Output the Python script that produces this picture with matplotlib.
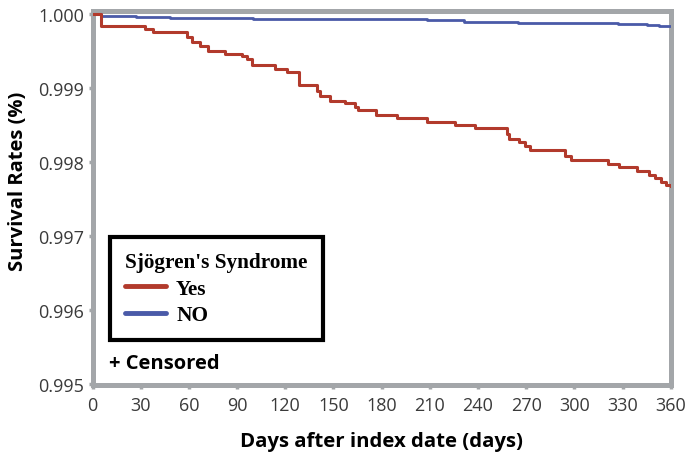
import matplotlib
matplotlib.use("Agg")
import matplotlib.pyplot as plt
from matplotlib.lines import Line2D

# Kaplan-Meier steps (day, survival after step)
yes_days = [0, 5.3, 32.7, 37.7, 58.8, 62, 66.9, 71.9, 82.5, 93.1, 96.2, 99.3, 113.6,
            121.1, 128.6, 139.8, 141.7, 147.9, 157.2, 163.4, 165.3, 176.5, 189.6,
            208.3, 225.7, 238.2, 258.1, 259.4, 265.6, 269.3, 272.4, 294.2, 297.9,
            321, 327.8, 339, 346.5, 350.2, 354, 357, 360]
yes_surv = [1.0, 0.99984, 0.99980, 0.99976, 0.99970, 0.99963, 0.99957, 0.99951,
            0.99946, 0.99944, 0.99940, 0.99932, 0.99926, 0.99922, 0.99904, 0.99896,
            0.99889, 0.99883, 0.99880, 0.99875, 0.99870, 0.99864, 0.99860, 0.99855,
            0.99850, 0.99846, 0.99838, 0.99831, 0.99827, 0.99822, 0.99817, 0.99808,
            0.99803, 0.99797, 0.99793, 0.99788, 0.99783, 0.99778, 0.99773, 0.99769,
            0.99767]

no_days = [0, 5, 27, 48.5, 100, 208, 221, 231, 265, 285, 327, 345, 353, 360]
no_surv = [1.0, 0.99998, 0.99997, 0.99995, 0.99994, 0.99993, 0.99992, 0.99990,
           0.99989, 0.99988, 0.99987, 0.99986, 0.99985, 0.99984]

x_ticks = [0, 30, 60, 90, 120, 150, 180, 210, 240, 270, 300, 330, 360]
y_ticks = [0.995, 0.996, 0.997, 0.998, 0.999, 1.000]
y_tick_labels = ["0.995", "0.996", "0.997", "0.998", "0.999", "1.000"]

RED = "#B23A2C"
BLUE = "#4A5AA8"
SPINE = "#A3A6A9"

fig = plt.figure(figsize=(6.85, 4.64), dpi=100)
ax = fig.add_axes([92.5 / 685, 1 - 386 / 464, (670.7 - 92.5) / 685, (386 - 12) / 464])

ax.step(no_days, no_surv, where="post", color=BLUE, lw=2.0, label="NO", zorder=3)
ax.step(yes_days, yes_surv, where="post", color=RED, lw=2.2, label="Yes", zorder=4)

ax.set_xlim(0, 360)
ax.set_ylim(0.994980, 1.0000474)
ax.set_xticks(x_ticks)
ax.set_xticklabels([str(t) for t in x_ticks])
ax.set_yticks(y_ticks)
ax.set_yticklabels(y_tick_labels)

for s in ax.spines.values():
    s.set_color(SPINE)
    s.set_linewidth(3.6)
ax.tick_params(axis="both", colors=SPINE, length=3, width=2.5, direction="out",
               labelcolor="#3a3a3a", labelsize=13, pad=3)
ax.tick_params(axis="x", pad=5)
for lab in ax.get_xticklabels() + ax.get_yticklabels():
    lab.set_family("Open Sans")

ax.set_xlabel("Days after index date (days)", fontsize=14.7, fontweight="bold",
              family="Open Sans", labelpad=12, color="black")
ax.set_ylabel("Survival Rates (%)", fontsize=14.5, fontweight="bold",
              family="Open Sans", color="black")
ax.yaxis.set_label_coords(-0.112, 0.546)

handles = [Line2D([], [], color=RED, lw=3.5, solid_capstyle="round"),
           Line2D([], [], color=BLUE, lw=3.5, solid_capstyle="round")]
leg = ax.legend(handles, ["Yes", "NO"], title="Sjögren's Syndrome",
                loc="upper left", bbox_to_anchor=(0.03, 0.396),
                prop={"family": "Liberation Serif", "weight": "bold", "size": 15.3},
                title_fontproperties={"family": "Liberation Serif", "weight": "bold", "size": 15.3},
                frameon=True, fancybox=False, framealpha=1, edgecolor="black",
                handlelength=1.9, handletextpad=0.5, labelspacing=0.3,
                borderpad=0.72, alignment="left", borderaxespad=0)
leg.get_frame().set_linewidth(3)

ax.text(0.028, 0.058, "+ Censored", transform=ax.transAxes, fontsize=14.5,
        fontweight="bold", family="Open Sans", color="black", va="center")

fig.savefig("out.png", dpi=100)
